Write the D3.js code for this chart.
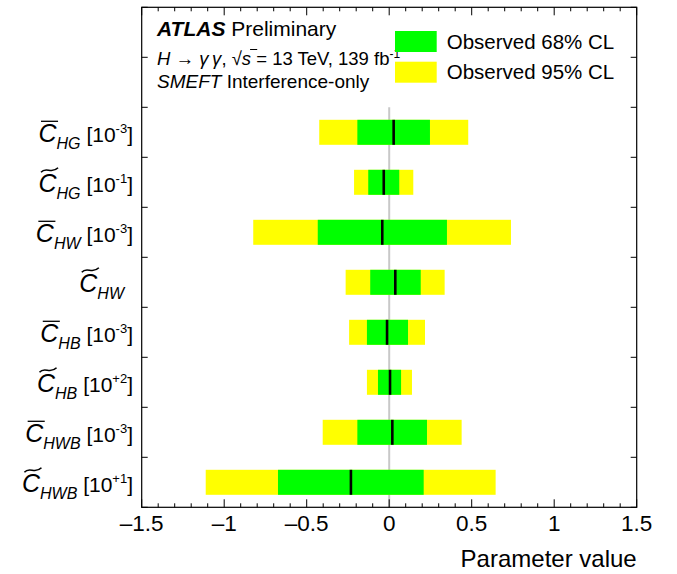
<!DOCTYPE html>
<html>
<head>
<meta charset="utf-8">
<script src="https://cdn.jsdelivr.net/npm/d3@7"></script>
<style>
  html, body { margin: 0; padding: 0; background: #fff; }
  svg { display: block; }
</style>
</head>
<body>
<div id="chart"></div>
<script>
// Wilson coefficients, listed top to bottom
const coefMarks  = ["bar", "tilde", "bar", "tilde", "bar", "tilde", "bar", "tilde"];
const coefSubs   = ["HG", "HG", "HW", "HW", "HB", "HB", "HWB", "HWB"];
const coefScales = ["-3", "-1", "-3", null, "-3", "+2", "-3", "+1"];

// Best-fit values and observed intervals (in the scaled units above)
const bestFit = [0.027, -0.033, -0.042, 0.037, -0.013, 0.005, 0.019, -0.232];
const lo68    = [-0.193, -0.127, -0.433, -0.115, -0.135, -0.068, -0.193, -0.674];
const hi68    = [0.247, 0.061, 0.350, 0.191, 0.114, 0.072, 0.229, 0.209];
const lo95    = [-0.424, -0.213, -0.824, -0.264, -0.243, -0.135, -0.403, -1.112];
const hi95    = [0.479, 0.146, 0.738, 0.336, 0.217, 0.138, 0.439, 0.645];

const xTickLabels = [-1.5, -1, -0.5, 0, 0.5, 1, 1.5];
const legendLabels = ["Observed 68% CL", "Observed 95% CL"];

const W = 677, H = 574;
const FONT = "'Liberation Sans', Arial, Helvetica, sans-serif";
const GREEN = "#00ff00", YELLOW = "#ffff00";

const frame = { left: 141.7, right: 636.7, top: 7.3, bottom: 507.3 };

const svg = d3.select("#chart").append("svg")
  .attr("width", W).attr("height", H)
  .style("font-family", FONT);

const x = d3.scaleLinear().domain([-1.5, 1.5]).range([frame.left, frame.right]);
// vertical axis: 10 slots, coefficient i sits at 7.5 - i
const y = d3.scaleLinear().domain([0, 10]).range([frame.bottom, frame.top]);
const rowPos = i => 7.5 - i;
const halfBar = 0.25;

// zero reference line
svg.append("line")
  .attr("x1", x(0)).attr("x2", x(0))
  .attr("y1", y(8)).attr("y2", y(0))
  .attr("stroke", "#c8c8c8").attr("stroke-width", 2);

const rows = d3.range(coefSubs.length);
const bars = svg.append("g");

bars.selectAll("rect.y95").data(rows).join("rect")
  .attr("x", i => x(lo95[i]))
  .attr("width", i => x(hi95[i]) - x(lo95[i]))
  .attr("y", i => y(rowPos(i) + halfBar))
  .attr("height", i => y(rowPos(i) - halfBar) - y(rowPos(i) + halfBar))
  .attr("fill", YELLOW);

bars.selectAll("rect.g68").data(rows).join("rect")
  .attr("x", i => x(lo68[i]))
  .attr("width", i => x(hi68[i]) - x(lo68[i]))
  .attr("y", i => y(rowPos(i) + halfBar))
  .attr("height", i => y(rowPos(i) - halfBar) - y(rowPos(i) + halfBar))
  .attr("fill", GREEN);

bars.selectAll("line.best").data(rows).join("line")
  .attr("x1", i => x(bestFit[i])).attr("x2", i => x(bestFit[i]))
  .attr("y1", i => y(rowPos(i) + halfBar))
  .attr("y2", i => y(rowPos(i) - halfBar))
  .attr("stroke", "#000").attr("stroke-width", 2.6);

// frame
svg.append("rect")
  .attr("x", frame.left).attr("y", frame.top)
  .attr("width", frame.right - frame.left)
  .attr("height", frame.bottom - frame.top)
  .attr("fill", "none").attr("stroke", "#000").attr("stroke-width", 1.2);

// x ticks (inward, bottom and top)
const xt = svg.append("g").attr("stroke", "#000").attr("stroke-width", 1);
const minor = d3.range(-15, 16).map(k => k / 10);
minor.forEach(v => {
  const major = Math.abs(v * 2 - Math.round(v * 2)) < 1e-9;
  const len = major ? 8 : 4;
  xt.append("line").attr("x1", x(v)).attr("x2", x(v))
    .attr("y1", frame.bottom).attr("y2", frame.bottom - len);
  xt.append("line").attr("x1", x(v)).attr("x2", x(v))
    .attr("y1", frame.top).attr("y2", frame.top + len);
});

// y ticks (inward, left and right)
d3.range(0, 11).forEach(k => {
  xt.append("line").attr("x1", frame.left).attr("x2", frame.left + 6)
    .attr("y1", y(k)).attr("y2", y(k));
  xt.append("line").attr("x1", frame.right).attr("x2", frame.right - 6)
    .attr("y1", y(k)).attr("y2", y(k));
});

// x tick labels
const fmt = v => (v < 0 ? "\u2013" : "") + String(Math.abs(v));
svg.append("g").selectAll("text").data(xTickLabels).join("text")
  .attr("x", d => x(d)).attr("y", 531)
  .attr("text-anchor", "middle")
  .attr("font-size", 22.5)
  .text(fmt);

svg.append("text")
  .attr("x", frame.right).attr("y", 567)
  .attr("text-anchor", "end")
  .attr("font-size", 24)
  .text("Parameter value");

// coefficient labels
const labels = svg.append("g");
rows.forEach(i => {
  const yc = y(rowPos(i));
  const base = yc + 9.5;
  const xEnd = coefScales[i] ? 133 : 124;
  const t = labels.append("text")
    .attr("x", xEnd).attr("y", base)
    .attr("text-anchor", "end");
  t.append("tspan").attr("font-style", "italic").attr("font-size", 25).text("C");
  t.append("tspan").attr("font-style", "italic").attr("font-size", 16)
    .attr("dy", 7).text(coefSubs[i]);
  if (coefScales[i]) {
    t.append("tspan").attr("font-size", 21).attr("dy", -7).text("\u00a0[10");
    t.append("tspan").attr("font-size", 13).attr("dy", -9).text(coefScales[i]);
    t.append("tspan").attr("font-size", 21).attr("dy", 9).text("]");
  }
  const node = t.node();
  const p0 = node.getStartPositionOfChar(0).x;
  const p1 = node.getEndPositionOfChar(0).x;
  const cx0 = p0 + 2.5, cx1 = p1 + 1.5;
  if (coefMarks[i] === "bar") {
    labels.append("line")
      .attr("x1", cx0).attr("x2", cx1)
      .attr("y1", base - 20.5).attr("y2", base - 20.5)
      .attr("stroke", "#000").attr("stroke-width", 1.3);
  } else {
    const ym = base - 22;
    const w = cx1 - cx0;
    labels.append("path")
      .attr("d", `M${cx0},${ym + 2.5} C${cx0 + w * 0.3},${ym - 4} ${cx0 + w * 0.6},${ym + 5} ${cx1},${ym - 2}`)
      .attr("fill", "none").attr("stroke", "#000").attr("stroke-width", 1.5);
  }
});

// header text
svg.append("text").attr("x", 157).attr("y", 36).attr("font-size", 21)
  .call(t => {
    t.append("tspan").attr("font-weight", "bold").attr("font-style", "italic").text("ATLAS");
    t.append("tspan").text(" Preliminary");
  });

const l2 = svg.append("text").attr("x", 157).attr("y", 65).attr("font-size", 18.5);
const l2parts = [
  { s: "H", it: true },
  { s: " \u2192 " },
  { s: "\u03b3\u2009\u03b3", it: true },
  { s: ",  \u221a" },
  { s: "s", it: true, bar: true },
  { s: " = 13 TeV, 139 fb" },
  { s: "-1", sup: true }
];
let charIdx = 0, barIdx = -1;
l2parts.forEach(p => {
  const ts = l2.append("tspan").text(p.s);
  if (p.it) ts.attr("font-style", "italic");
  if (p.sup) ts.attr("font-size", 12).attr("dy", -7);
  if (p.bar) barIdx = charIdx;
  charIdx += p.s.length;
});
{
  const n = l2.node();
  const b1 = n.getEndPositionOfChar(barIdx).x;
  const r1 = n.getEndPositionOfChar(barIdx - 1).x;
  svg.append("line").attr("x1", r1 - 1).attr("x2", b1 + 1)
    .attr("y1", 65 - 15.5).attr("y2", 65 - 15.5)
    .attr("stroke", "#000").attr("stroke-width", 1);
}

svg.append("text").attr("x", 157).attr("y", 88).attr("font-size", 19)
  .call(t => {
    t.append("tspan").attr("font-style", "italic").text("SMEFT");
    t.append("tspan").text(" Interference-only");
  });

// legend
const leg = svg.append("g");
const legColors = [GREEN, YELLOW];
legendLabels.forEach((lab, k) => {
  const top = 31 + k * 30.7;
  leg.append("rect").attr("x", 395).attr("y", top)
    .attr("width", 41.7).attr("height", 21)
    .attr("fill", legColors[k]);
  leg.append("text").attr("x", 446.7).attr("y", top + 17.5)
    .attr("font-size", 20.5).text(lab);
});
</script>
</body>
</html>
